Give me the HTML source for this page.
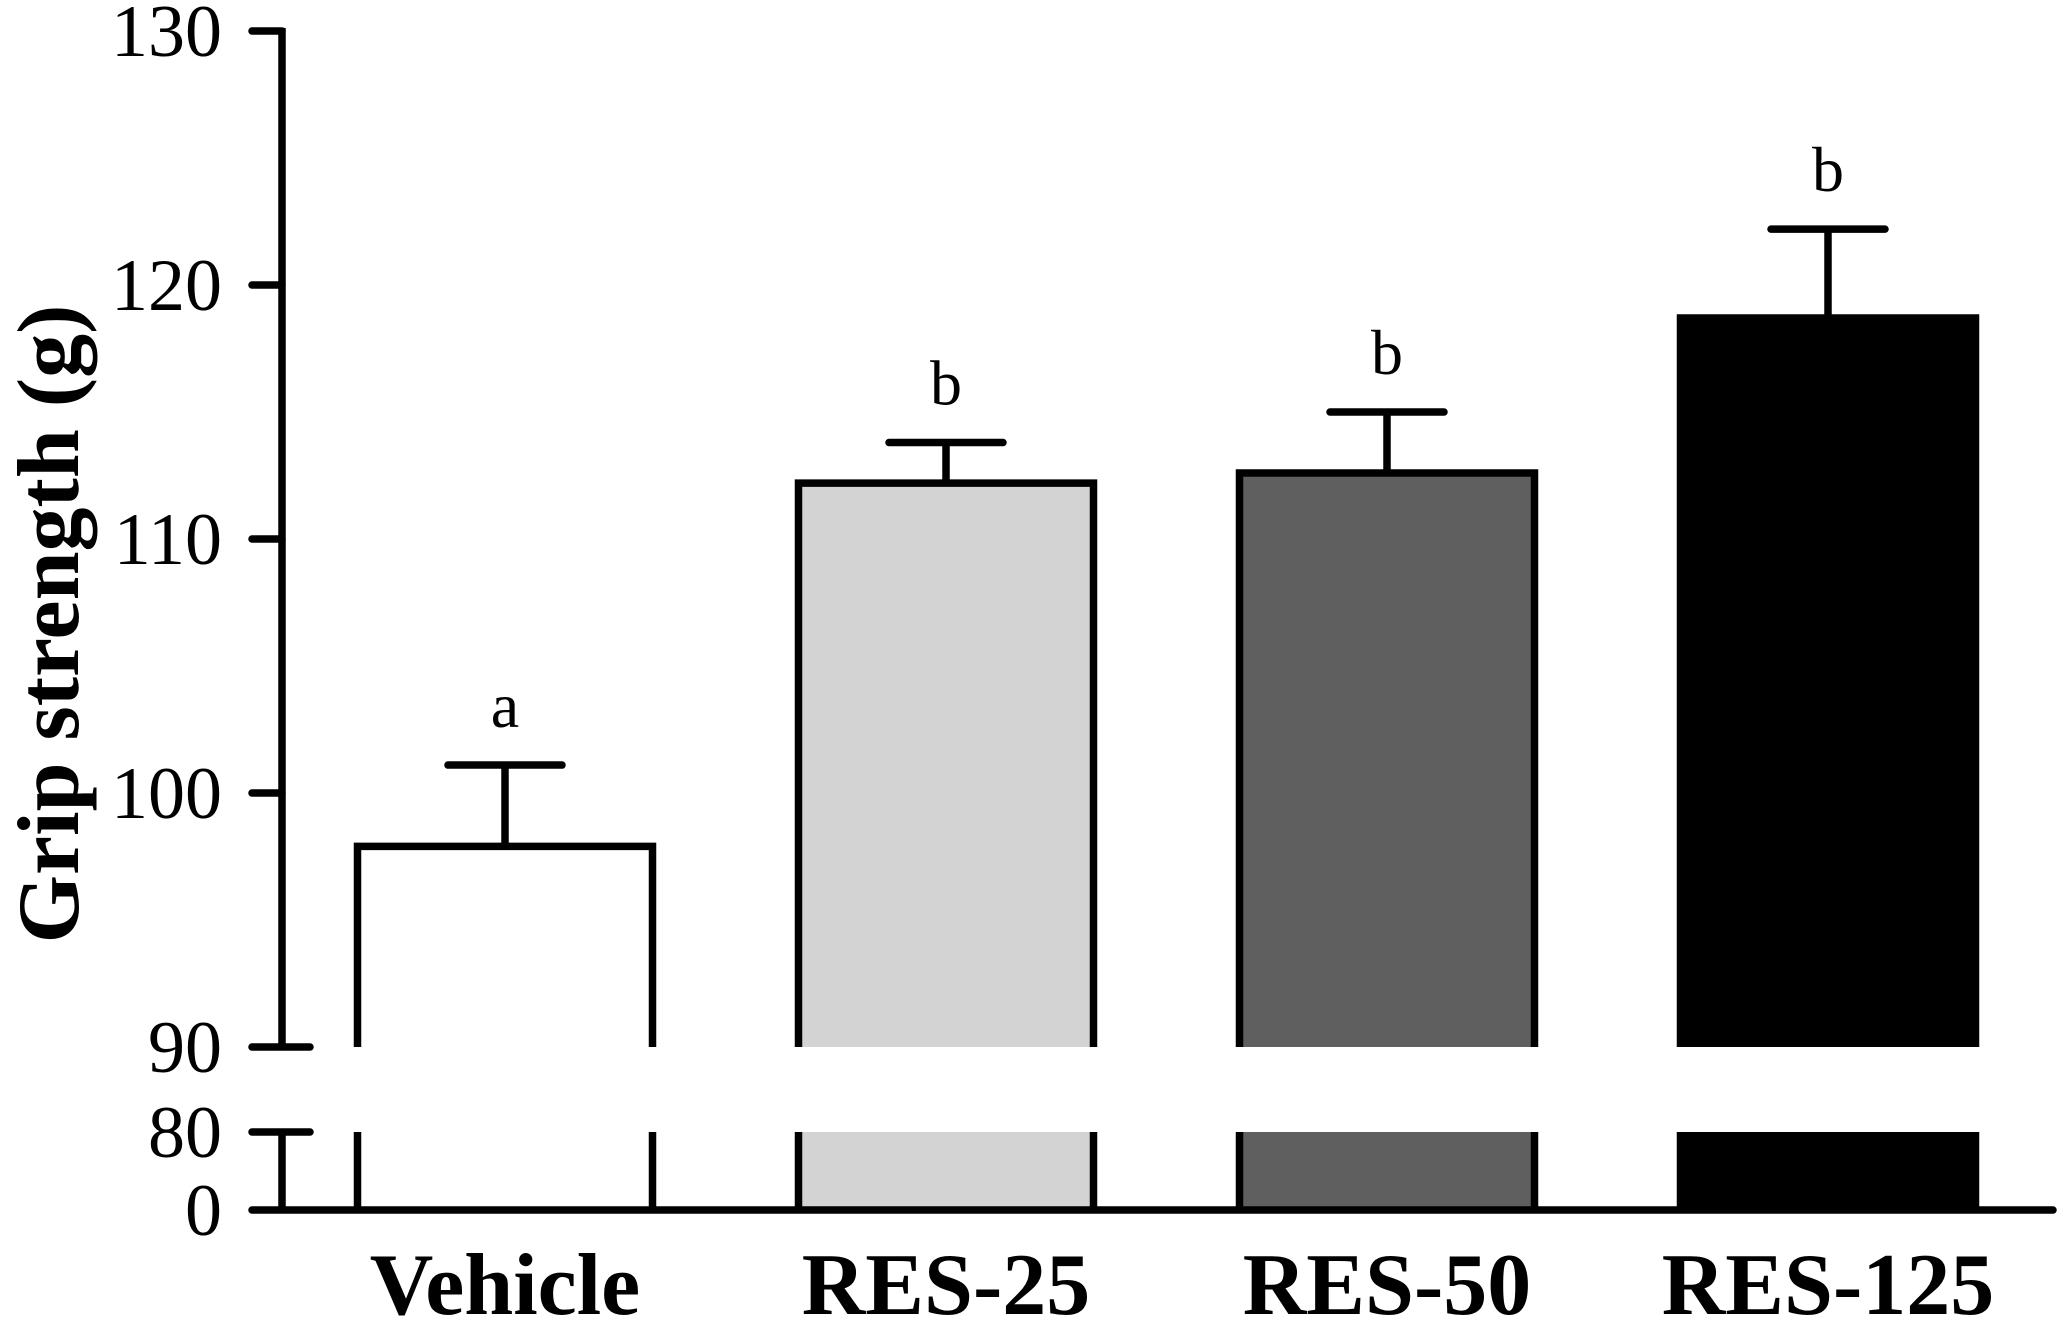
<!DOCTYPE html>
<html><head><meta charset="utf-8"><style>
html,body{margin:0;padding:0;background:#fff;}
svg{display:block;font-family:"Liberation Serif",serif;}
</style></head><body>
<svg id="chart" width="2057" height="1326" viewBox="0 0 2057 1326"></svg>
<script>
const categories = ["Vehicle", "RES-25", "RES-50", "RES-125"];
const means = [97.9, 112.2, 112.6, 118.7];
const errors = [3.2, 1.6, 2.4, 3.5];
const sigLetters = ["a", "b", "b", "b"];
const fills = ["#ffffff", "#d3d3d3", "#5f5f5f", "#000000"];
const yTicks = [90, 100, 110, 120, 130];

const NS = "http://www.w3.org/2000/svg";
const svg = document.getElementById("chart");
const axisX = 282, baseY = 1210, breakTop = 1047, breakBot = 1132;
function y(v){ return 1047 - (v - 90) * 25.4; }
function xCenter(i){ return 505 + i * 441; }
const barW = 295;
function mk(tag, attrs, parent){
  const e = document.createElementNS(NS, tag);
  for (const k in attrs) e.setAttribute(k, attrs[k]);
  (parent || svg).appendChild(e);
  return e;
}
const SW = 7.5;
categories.forEach((c, i) => {
  const g = mk("g", {});
  
  
  const x0 = xCenter(i) - barW / 2, x1 = xCenter(i) + barW / 2;
  const top = y(means[i]);
  mk("rect", {x: x0, y: top, width: barW, height: breakTop - top, fill: fills[i]}, g);
  mk("rect", {x: x0, y: breakBot, width: barW, height: baseY - breakBot, fill: fills[i]}, g);
  mk("polyline", {points: `${x0},${breakTop} ${x0},${top} ${x1},${top} ${x1},${breakTop}`, fill: "none", stroke: "#000", "stroke-width": SW}, g);
  mk("line", {x1: x0, y1: breakBot, x2: x0, y2: baseY, stroke: "#000", "stroke-width": SW}, g);
  mk("line", {x1: x1, y1: breakBot, x2: x1, y2: baseY, stroke: "#000", "stroke-width": SW}, g);
  const eTop = y(means[i] + errors[i]);
  const eb = mk("g", {});
  
  
  mk("line", {x1: xCenter(i), y1: top, x2: xCenter(i), y2: eTop, stroke: "#000", "stroke-width": SW}, eb);
  mk("line", {x1: xCenter(i) - 57, y1: eTop, x2: xCenter(i) + 57, y2: eTop, stroke: "#000", "stroke-width": SW, "stroke-linecap": "round"}, eb);
  const t = mk("text", {x: xCenter(i), y: eTop - 38, "text-anchor": "middle", "font-size": 64});
  
  
  t.textContent = sigLetters[i];
  const xl = mk("text", {x: xCenter(i), y: 1314, "text-anchor": "middle", "font-size": 88, "font-weight": "bold"});
  
  
  xl.textContent = c;
});
const ax = mk("g", {});


mk("line", {x1: axisX, y1: y(130) - 3, x2: axisX, y2: breakTop + 3, stroke: "#000", "stroke-width": SW}, ax);
mk("line", {x1: axisX, y1: breakBot - 3, x2: axisX, y2: baseY, stroke: "#000", "stroke-width": SW}, ax);
yTicks.forEach(v => {
  const right = v === 90 ? 310 : axisX;
  mk("line", {x1: 252, y1: y(v), x2: right, y2: y(v), stroke: "#000", "stroke-width": SW, "stroke-linecap": "round"}, ax);
  const t = mk("text", {x: 222, y: y(v) + 25, "text-anchor": "end", "font-size": 74}, ax);
  
  
  t.textContent = v;
});
mk("line", {x1: 252, y1: breakBot, x2: 310, y2: breakBot, stroke: "#000", "stroke-width": SW, "stroke-linecap": "round"}, ax);
const t80 = mk("text", {x: 222, y: breakBot + 25, "text-anchor": "end", "font-size": 74}, ax);


t80.textContent = "80";
const t0 = mk("text", {x: 222, y: baseY + 25, "text-anchor": "end", "font-size": 74}, ax);


t0.textContent = "0";
const xa = mk("line", {x1: 252, y1: baseY, x2: 2053, y2: baseY, stroke: "#000", "stroke-width": SW, "stroke-linecap": "round"});


const yt = mk("text", {x: 0, y: 0, "text-anchor": "middle", "font-size": 88, "font-weight": "bold", transform: "translate(78,624) rotate(-90)"});


yt.textContent = "Grip strength (g)";
</script>
</body></html>
